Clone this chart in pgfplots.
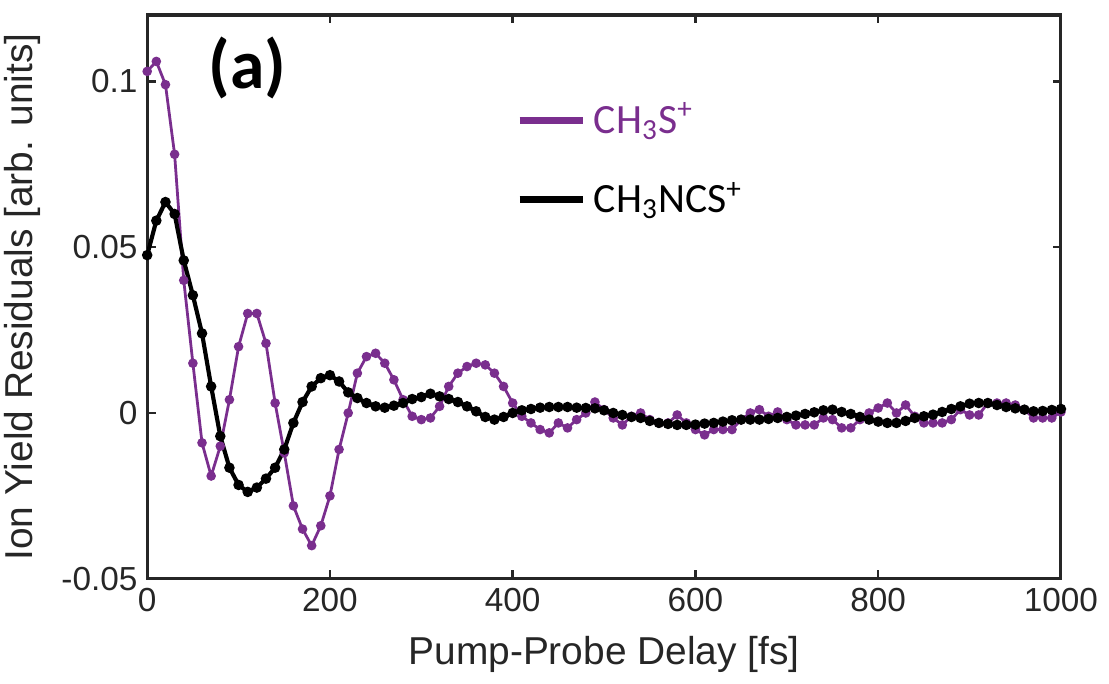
\documentclass[border=0pt]{standalone}
\usepackage{fontspec}
\setmainfont{Liberation Sans}
\newfontfamily\calibri{Carlito}
\usepackage{pgfplots}
\pgfplotsset{compat=1.18}
\definecolor{pur}{RGB}{122,46,142}
\definecolor{axgray}{RGB}{38,38,38}

\pgfplotstableread{
x y
0 0.103
10 0.106
20 0.099
30 0.078
40 0.040
50 0.015
60 -0.009
70 -0.019
80 -0.010
90 0.004
100 0.020
110 0.030
120 0.030
130 0.021
140 0.003
150 -0.012
160 -0.028
170 -0.035
180 -0.040
190 -0.034
200 -0.025
210 -0.011
220 0.000
230 0.012
240 0.017
250 0.018
260 0.015
270 0.010
280 0.004
290 -0.001
300 -0.002
310 -0.0015
320 0.002
330 0.008
340 0.012
350 0.014
360 0.015
370 0.0145
380 0.012
390 0.008
400 0.003
410 -0.001
420 -0.003
430 -0.005
440 -0.006
450 -0.003
460 -0.0045
470 -0.002
480 0.000
490 0.0033
500 0.001
510 -0.0015
520 -0.0036
530 -0.001
540 0.000
550 -0.002
560 -0.003
570 -0.003
580 -0.0006
590 -0.003
600 -0.005
610 -0.0066
620 -0.005
630 -0.005
640 -0.005
650 -0.002
660 0.000
670 0.001
680 -0.001
690 0.0003
700 -0.002
710 -0.0036
720 -0.0036
730 -0.0036
740 -0.0015
750 -0.002
760 -0.0045
770 -0.0045
780 -0.002
790 0.000
800 0.0015
810 0.003
820 0.000
830 0.0024
840 -0.001
850 -0.003
860 -0.003
870 -0.003
880 -0.002
890 0.001
900 -0.0006
910 -0.0006
920 0.003
930 0.003
940 0.003
950 0.0024
960 0.001
970 -0.0015
980 -0.0015
990 -0.0015
1000 0.0003
}\tabS

\pgfplotstableread{
x y
0 0.0476
10 0.058
20 0.0636
30 0.060
40 0.046
50 0.0355
60 0.024
70 0.008
80 -0.007
90 -0.0165
100 -0.0217
110 -0.0238
120 -0.0225
130 -0.0198
140 -0.0165
150 -0.011
160 -0.003
170 0.0033
180 0.008
190 0.0105
200 0.0114
210 0.0095
220 0.0062
230 0.0045
240 0.003
250 0.002
260 0.0016
270 0.0022
280 0.003
290 0.0042
300 0.0048
310 0.0058
320 0.005
330 0.0042
340 0.0033
350 0.002
360 0.0005
370 -0.0012
380 -0.002
390 -0.0012
400 0.000
410 0.0008
420 0.0012
430 0.0016
440 0.0018
450 0.0018
460 0.0018
470 0.0016
480 0.0015
490 0.0014
500 0.0008
510 0.000
520 -0.0006
530 -0.0012
540 -0.0015
550 -0.0024
560 -0.003
570 -0.0033
580 -0.0036
590 -0.0036
600 -0.0035
610 -0.0032
620 -0.003
630 -0.0026
640 -0.0022
650 -0.002
660 -0.002
670 -0.002
680 -0.0018
690 -0.0015
700 -0.0012
710 -0.0008
720 -0.0003
730 0.0002
740 0.0008
750 0.001
760 0.0003
770 -0.0003
780 -0.0012
790 -0.002
800 -0.0026
810 -0.003
820 -0.003
830 -0.0024
840 -0.0015
850 -0.001
860 -0.0005
870 0.0003
880 0.0012
890 0.002
900 0.0028
910 0.003
920 0.003
930 0.0024
940 0.0018
950 0.0014
960 0.001
970 0.0005
980 0.0006
990 0.0009
1000 0.0012
}\tabN

\begin{document}
\begin{tikzpicture}
\begin{axis}[
  scale only axis, width=329pt, height=203pt,
  xmin=0, xmax=1000, ymin=-0.05, ymax=0.12,
  xtick={0,200,400,600,800,1000}, xticklabels={0,200,400,600,800,1000},
  ytick={-0.05,0,0.05,0.1}, yticklabels={-0.05,0,0.05,0.1},
  tick align=inside, tick pos=both, major tick length=3pt,
  tick style={axgray, line width=0.9pt},
  axis line style={axgray, line width=1.1pt},
  ticklabel style={font=\fontsize{12}{14}\selectfont, text=axgray},
  xlabel={Pump-Probe Delay [fs]},
  ylabel={Ion Yield Residuals [arb. units]},
  label style={font=\fontsize{14}{16}\selectfont, text=axgray},
  xlabel style={at={(axis description cs:0.5,-0.135)}, anchor=center},
  ylabel style={at={(axis description cs:-0.1368,0.5)}, anchor=center},
  legend style={at={(axis description cs:0.403,0.855)}, anchor=north west,
    draw=none, fill=none, inner sep=0pt, row sep=12pt,
    font=\calibri\fontsize{15}{17}\selectfont},
  legend cell align=left,
  legend image code/.code={\draw[#1, line width=2.6pt] (0pt,0pt) -- (22.7pt,0pt); \path (24pt,0pt);},
]
\addplot[pur, line width=1pt, mark=*, mark size=1.2pt] table[x=x,y=y] {\tabS};
\addlegendentry{\textcolor{pur}{CH\textsubscript{3}S\textsuperscript{+}}}
\addplot[black, line width=1.5pt, mark=*, mark size=1.1pt] table[x=x,y=y] {\tabN};
\addlegendentry{CH\textsubscript{3}NCS\textsuperscript{+}}
\node[font=\calibri\bfseries\fontsize{25}{28}\selectfont, text=black] at (axis cs:110,0.104) {(a)};
\end{axis}
\pgfresetboundingbox
\path[use as bounding box] ([xshift=-53pt,yshift=-37.8pt]current axis.south west) rectangle ([xshift=17.3pt,yshift=5.4pt]current axis.north east);
\end{tikzpicture}
\end{document}
